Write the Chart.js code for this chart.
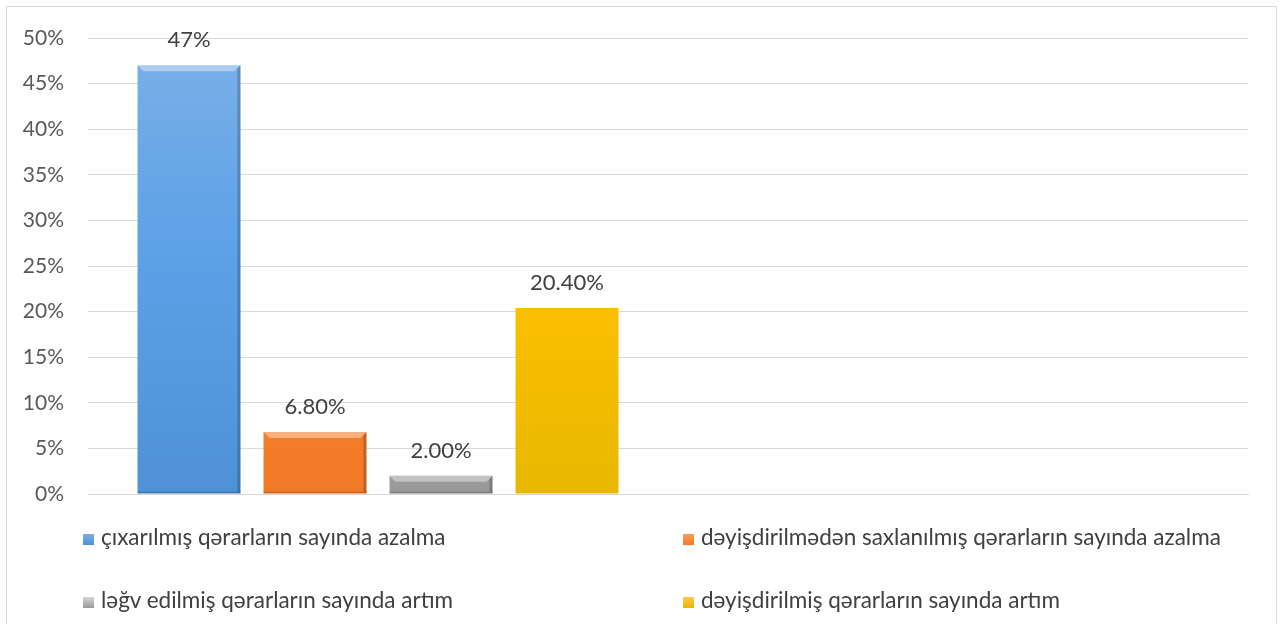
<!DOCTYPE html>
<html>
<head>
<meta charset="utf-8">
<script src="https://cdn.jsdelivr.net/npm/chart.js@4/dist/chart.umd.min.js"></script>
<style>
  html, body { margin: 0; padding: 0; background: #fff; overflow: hidden; }
  #wrap { position: relative; width: 1281px; height: 624px; }
  #frame { position: absolute; left: 6px; top: 6px; width: 1271px; height: 640px; border: 1px solid #d9d9d9; box-sizing: border-box; }
  canvas { position: absolute; left: 0; top: 0; }
  .leg { position: absolute; font-family: Lato, "Open Sans", sans-serif; font-size: 22.5px; color: #404040; white-space: nowrap; line-height: 22px; }
  .leg i { display: inline-block; width: 11px; height: 11px; margin-right: 7px; vertical-align: 0px; }
</style>
</head>
<body>
<div id="wrap">
  <div id="frame"></div>
  <canvas id="bar_chart" width="1281" height="624"></canvas>
  <div id="legend"></div>
</div>
<script>
// data
var categories = ['', ''];
var seriesNames = [
    "çıxarılmış qərarların sayında azalma",
    "dəyişdirilmədən saxlanılmış qərarların sayında azalma",
    "ləğv edilmiş qərarların sayında artım",
    "dəyişdirilmiş qərarların sayında artım"
];
var seriesValues = [47, 6.8, 2.0, 20.4];
var valueLabels = ['47%', '6.80%', '2.00%', '20.40%'];
var yTicks = [0, 5, 10, 15, 20, 25, 30, 35, 40, 45, 50];

var colors = [
    ['#7bb0e8', '#5ba0e6', '#4e91d6'],
    ['#fb9b58', '#f98530', '#f07a26'],
    ['#d6d6d6', '#b0b0b0', '#999999'],
    ['#ffc945', '#ffc000', '#e8b800']
];
var bevel = [true, true, true, false];

function barGradient(i) {
    return function(context) {
        var chart = context.chart;
        var area = chart.chartArea;
        if (!area) return colors[i][1];
        var el = context.element;
        var top = el && el.y !== undefined ? el.y : area.top;
        var g = chart.ctx.createLinearGradient(0, top, 0, area.bottom);
        g.addColorStop(0, colors[i][0]);
        g.addColorStop(0.5, colors[i][1]);
        g.addColorStop(1, colors[i][2]);
        return g;
    };
}

var datasets = seriesNames.map(function(name, i) {
    return {
        label: name,
        data: [seriesValues[i], null],
        backgroundColor: barGradient(i),
        borderWidth: 0,
        categoryPercentage: 0.869,
        barPercentage: 0.817
    };
});

// bevel + value labels
var bevelPlugin = {
    id: 'bevel',
    afterDatasetsDraw: function(chart) {
        var ctx = chart.ctx;
        chart.data.datasets.forEach(function(ds, i) {
            var meta = chart.getDatasetMeta(i);
            var bar = meta.data[0];
            if (!bar) return;
            var w = bar.width, l = bar.x - w / 2, r = bar.x + w / 2, t = bar.y, b = bar.base;
            ctx.save();
            if (bevel[i]) {
                var s = Math.min(6, (b - t) / 2);
                ctx.fillStyle = 'rgba(255,255,255,0.4)';
                ctx.beginPath();
                ctx.moveTo(l, t); ctx.lineTo(r, t); ctx.lineTo(r - s, t + s); ctx.lineTo(l + s, t + s);
                ctx.closePath(); ctx.fill();
                ctx.fillStyle = 'rgba(0,0,0,0.2)';
                ctx.beginPath();
                ctx.moveTo(r, t); ctx.lineTo(r, b); ctx.lineTo(r - 3, b - 2); ctx.lineTo(r - 3, t + 3);
                ctx.closePath(); ctx.fill();
                ctx.fillStyle = 'rgba(0,0,0,0.15)';
                ctx.fillRect(l, b - 2, w, 2);
            }
            ctx.fillStyle = '#404040';
            ctx.font = '22px Lato, "Open Sans", sans-serif';
            ctx.textAlign = 'center';
            ctx.textBaseline = 'middle';
            ctx.fillText(valueLabels[i], bar.x, t - 25);
            ctx.restore();
        });
    }
};

var ctx = document.getElementById('bar_chart').getContext('2d');
var barChart = new Chart(ctx, {
    type: 'bar',
    data: {
        labels: categories,
        datasets: datasets
    },
    plugins: [bevelPlugin],
    options: {
        responsive: false,
        animation: false,
        layout: { padding: { left: 0, right: 33, top: 38, bottom: 122 } },
        plugins: {
            legend: { display: false },
            tooltip: { enabled: false }
        },
        scales: {
            x: {
                grid: { display: false },
                border: { display: true, color: '#d9d9d9', width: 1 },
                ticks: { display: false }
            },
            y: {
                min: 0,
                max: 50,
                afterBuildTicks: function(axis) {
                    axis.ticks = yTicks.map(function(v) { return { value: v }; });
                },
                afterFit: function(axis) { axis.width = 88; },
                grid: { color: '#d9d9d9', drawTicks: false },
                border: { display: false },
                ticks: {
                    padding: 24,
                    color: '#595959',
                    font: { family: 'Lato, "Open Sans", sans-serif', size: 21 },
                    callback: function(v) { return v + '%'; }
                }
            }
        }
    }
});

// legend, two columns
var legendPos = [[83, 526], [683, 526], [83, 589], [683, 589]];
var legendBox = document.getElementById('legend');
seriesNames.forEach(function(name, i) {
    var d = document.createElement('div');
    d.className = 'leg';
    d.style.left = legendPos[i][0] + 'px';
    d.style.top = legendPos[i][1] + 'px';
    d.innerHTML = '<i style="background:linear-gradient(' + colors[i][0] + ',' + colors[i][2] + ')"></i>' + name;
    legendBox.appendChild(d);
});
</script>
</body>
</html>
